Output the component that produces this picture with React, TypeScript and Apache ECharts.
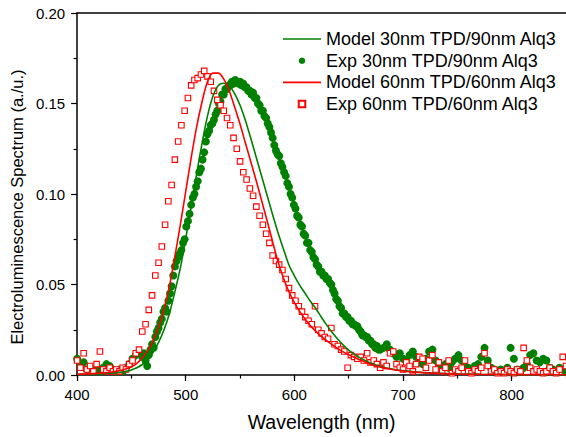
import { useEffect, useRef } from "react";
import * as echarts from "echarts";

const GREEN = "#008000";
const RED = "#ff0000";
const FONT = "'Liberation Sans', Arial, sans-serif";

const SERIES_NAMES = [
  "Model 30nm TPD/90nm Alq3",
  "Exp 30nm TPD/90nm Alq3",
  "Model 60nm TPD/60nm Alq3",
  "Exp 60nm TPD/60nm Alq3",
];

// model curves, read every 5 nm (coarser in the far tail)
const MODEL_WAVELENGTHS = [
  400, 405, 410, 415, 420, 425, 430, 435, 440, 445,
  450, 455, 460, 465, 470, 475, 480, 485, 490, 495,
  500, 505, 510, 515, 520, 525, 530, 535, 540, 545,
  550, 555, 560, 565, 570, 575, 580, 585, 590, 595,
  600, 605, 610, 615, 620, 625, 630, 635, 640, 645,
  650, 655, 660, 665, 670, 675, 680, 685, 690, 695,
  700, 710, 720, 730, 740, 750, 770, 800, 850,
];

const MODEL_30_90 = [
  0.0003, 0.0004, 0.0005, 0.0006, 0.0007, 0.0008, 0.001, 0.0012, 0.0015, 0.002,
  0.0028, 0.004, 0.0058, 0.0085, 0.0125, 0.018, 0.025, 0.034, 0.046, 0.059,
  0.0755, 0.093, 0.111, 0.128, 0.143, 0.154, 0.16, 0.1612, 0.1598, 0.1555,
  0.149, 0.1405, 0.1305, 0.12, 0.1095, 0.099, 0.0885, 0.0785, 0.0695, 0.0608,
  0.0548, 0.0495, 0.045, 0.0405, 0.0365, 0.0318, 0.0274, 0.0233, 0.0197, 0.0165,
  0.0138, 0.0115, 0.0096, 0.008, 0.0066, 0.0055, 0.0046, 0.0039, 0.0033, 0.0028,
  0.0024, 0.0018, 0.0013, 0.001, 0.0008, 0.0006, 0.0004, 0.0002, 0.0001,
];

const MODEL_60_60 = [
  0.0004, 0.0005, 0.0006, 0.0008, 0.001, 0.0012, 0.0015, 0.002, 0.0025, 0.0033,
  0.0045, 0.0064, 0.0095, 0.0135, 0.019, 0.0265, 0.0365, 0.049, 0.0655, 0.083,
  0.1015, 0.12, 0.137, 0.151, 0.162, 0.1668, 0.1668, 0.1635, 0.157, 0.148,
  0.1385, 0.128, 0.1175, 0.107, 0.096, 0.085, 0.0735, 0.0625, 0.0535, 0.046,
  0.04, 0.035, 0.0308, 0.027, 0.024, 0.0212, 0.0188, 0.0166, 0.0146, 0.0128,
  0.0112, 0.0098, 0.0085, 0.0072, 0.006, 0.005, 0.0042, 0.0036, 0.003, 0.0026,
  0.0022, 0.0016, 0.0012, 0.0009, 0.0007, 0.0005, 0.0003, 0.0002, 0.0001,
];

// Exp 30nm TPD/90nm: 3 nm steps in the tails, 1.5 nm steps over the band
const EXP30_HEAD_START = 400;
const EXP30_HEAD_STEP = 3;
const EXP30_HEAD = [
  0.009, 0.005, 0.007, 0.003, 0.004, 0.002, 0.003, 0.002, 0.004, 0.006,
  0.005, 0.003, 0.002, 0.003, 0.002, 0.004, 0.006, 0.009, 0.011, 0.012,
];

const EXP30_CORE_START = 460;
const EXP30_CORE_STEP = 1.5;
const EXP30_CORE = [
  0.010, 0.012, 0.008, 0.005, 0.011, 0.014, 0.017, 0.015, 0.021, 0.024,
  0.026, 0.029, 0.031, 0.035, 0.037, 0.035, 0.041, 0.045, 0.049, 0.055,
  0.060, 0.063, 0.065, 0.067, 0.069, 0.073, 0.075, 0.082, 0.085, 0.089,
  0.094, 0.098, 0.100, 0.104, 0.107, 0.112, 0.114, 0.119, 0.123, 0.129,
  0.133, 0.135, 0.138, 0.139, 0.141, 0.144, 0.146, 0.150, 0.151, 0.155,
  0.155, 0.158, 0.158, 0.160, 0.160, 0.162, 0.161, 0.163, 0.162, 0.161,
  0.162, 0.160, 0.161, 0.159, 0.159, 0.157, 0.157, 0.155, 0.156, 0.153,
  0.153, 0.150, 0.149, 0.146, 0.146, 0.143, 0.142, 0.139, 0.137, 0.134,
  0.131, 0.127, 0.124, 0.122, 0.121, 0.117, 0.115, 0.112, 0.110, 0.106,
  0.104, 0.100, 0.098, 0.094, 0.092, 0.088, 0.087, 0.083, 0.082, 0.078,
  0.077, 0.073, 0.073, 0.069, 0.068, 0.065, 0.064, 0.061, 0.060, 0.057,
  0.057, 0.055, 0.055, 0.053, 0.053, 0.051, 0.050, 0.047, 0.045, 0.042,
  0.041, 0.038, 0.037, 0.034, 0.034, 0.032, 0.032, 0.030, 0.030, 0.028,
  0.028, 0.027, 0.027, 0.025, 0.024, 0.022, 0.022, 0.021, 0.021, 0.019,
  0.019, 0.017, 0.017, 0.015, 0.016, 0.014, 0.014,
];

const EXP30_TAIL_START = 682;
const EXP30_TAIL_STEP = 3;
const EXP30_TAIL = [
  0.015, 0.017, 0.014, 0.012, 0.010, 0.012, 0.009, 0.008, 0.011, 0.013,
  0.010, 0.007, 0.006, 0.009, 0.013, 0.014, 0.008, 0.005, 0.004, 0.006,
  0.004, 0.007, 0.009, 0.011, 0.008, 0.005, 0.004, 0.003, 0.005, 0.006,
  0.010, 0.015, 0.008, 0.004, 0.003, 0.002, 0.003, 0.002, 0.004, 0.015,
  0.009, 0.003, 0.002, 0.004, 0.006, 0.011, 0.012, 0.008, 0.007, 0.009,
  0.008, 0.004, 0.003, 0.002, 0.004, 0.003, 0.002,
];

// Exp 60nm TPD/60nm: one value every 3 nm from 400 to 850 nm
const EXP60_START = 400;
const EXP60_STEP = 3;
const EXP60 = [
  0.008, 0.004, 0.012, 0.003, 0.005, 0.002, 0.006, 0.013, 0.003, 0.002,
  0.004, 0.002, 0.003, 0.002, 0.004, 0.003, 0.006, 0.008, 0.012, 0.014,
  0.024, 0.028, 0.036, 0.044, 0.055, 0.062, 0.071, 0.083, 0.096, 0.105,
  0.119, 0.129, 0.138, 0.146, 0.153, 0.160, 0.163, 0.164, 0.166, 0.168,
  0.165, 0.162, 0.157, 0.152, 0.149, 0.146, 0.142, 0.138, 0.131, 0.125,
  0.118, 0.112, 0.108, 0.103, 0.099, 0.093, 0.088, 0.083, 0.078, 0.073,
  0.066, 0.063, 0.061, 0.058, 0.053, 0.048, 0.044, 0.041, 0.038, 0.035,
  0.032, 0.030, 0.028, 0.038, 0.025, 0.023, 0.021, 0.020, 0.026, 0.017,
  0.016, 0.014, 0.013, 0.004, 0.011, 0.010, 0.009, 0.010, 0.008, 0.012,
  0.007, 0.008, 0.006, 0.004, 0.007, 0.005, 0.012, 0.013, 0.006, 0.004,
  0.003, 0.007, 0.005, 0.002, 0.006, 0.010, 0.009, 0.004, 0.008, 0.011,
  0.003, 0.007, 0.002, 0.004, 0.008, 0.001, 0.003, 0.002, 0.004, 0.008,
  0.002, 0.001, 0.003, 0.002, 0.004, 0.012, 0.005, 0.002, 0.003, 0.001,
  0.002, 0.001, 0.003, 0.002, 0.001, 0.003, 0.002, 0.015, 0.008, 0.004,
  0.002, 0.003, 0.002, 0.001, 0.002, 0.004, 0.002, 0.001, 0.003, 0.010, 0.005,
];

const X_MIN = 400;
const X_MAX = 850;
const Y_MIN = 0;
const Y_MAX = 0.2;

function pairModel(values: number[]) {
  return MODEL_WAVELENGTHS.map((x, i) => [x, values[i]]);
}

function pairSteps(start: number, step: number, values: number[]) {
  return values.map((v, i) => [start + i * step, v]);
}

const axisLineStyle = { color: "#000", width: 1.5 };
const tickLineStyle = { color: "#000", width: 1.2 };

const LINE_ICON = "path://M0,0H38V1.6H0Z";
const SQUARE_ICON = "path://M0,0H10V10H0Z";

function buildOption(): echarts.EChartsOption {
  return {
    animation: false,
    backgroundColor: "#fff",
    textStyle: { fontFamily: FONT },
    grid: { left: 72, right: 0, top: 13, bottom: 60 },
    legend: {
      orient: "vertical",
      left: 283,
      top: 30,
      padding: 0,
      itemWidth: 38,
      itemHeight: 6.5,
      itemGap: 3.7,
      textStyle: { fontSize: 18, color: "#000", fontFamily: FONT },
      data: [
        { name: SERIES_NAMES[0], icon: LINE_ICON },
        { name: SERIES_NAMES[1], icon: "circle" },
        { name: SERIES_NAMES[2], icon: LINE_ICON },
        { name: SERIES_NAMES[3], icon: SQUARE_ICON },
      ],
    },
    xAxis: [
      {
        type: "value",
        min: X_MIN,
        max: X_MAX,
        interval: 100,
        position: "bottom",
        name: "Wavelength (nm)",
        nameLocation: "middle",
        nameGap: 37,
        nameTextStyle: { fontSize: 19.5, color: "#000", fontFamily: FONT },
        axisLine: { onZero: false, lineStyle: axisLineStyle },
        axisTick: { length: 6, lineStyle: tickLineStyle },
        axisLabel: {
          margin: 12,
          fontSize: 15,
          color: "#000",
          fontFamily: FONT,
          showMaxLabel: false,
          formatter: (v: number) => (v === X_MAX ? "" : String(v)),
        },
        splitLine: { show: false },
      },
      {
        // minor ticks every 50 nm
        type: "value",
        min: X_MIN,
        max: X_MAX,
        interval: 50,
        position: "bottom",
        axisLine: { show: false },
        axisTick: { length: 3.5, lineStyle: tickLineStyle },
        axisLabel: { show: false },
        splitLine: { show: false },
      },
      {
        type: "value",
        min: X_MIN,
        max: X_MAX,
        position: "top",
        axisLine: { show: true, onZero: false, lineStyle: axisLineStyle },
        axisTick: { show: false },
        axisLabel: { show: false },
        splitLine: { show: false },
      },
    ],
    yAxis: {
      type: "value",
      min: Y_MIN,
      max: Y_MAX,
      interval: 0.05,
      name: "Electroluminescence Spectrum (a./u.)",
      nameLocation: "middle",
      nameGap: 45,
      nameTextStyle: {
        fontSize: 16.5,
        color: "#000",
        fontFamily: FONT,
        padding: [0, 26, 0, 0],
      },
      axisLine: { show: true, onZero: false, lineStyle: axisLineStyle },
      axisTick: { show: true, length: 6, lineStyle: tickLineStyle },
      minorTick: { show: true, splitNumber: 2, length: 3.5, lineStyle: tickLineStyle },
      axisLabel: {
        margin: 12,
        fontSize: 15,
        color: "#000",
        fontFamily: FONT,
        formatter: (v: number) => v.toFixed(2),
      },
      splitLine: { show: false },
    },
    series: [
      {
        name: SERIES_NAMES[0],
        type: "line",
        xAxisIndex: 0,
        smooth: 0.3,
        symbol: "none",
        lineStyle: { color: GREEN, width: 1.6 },
        itemStyle: { color: GREEN },
        data: pairModel(MODEL_30_90),
      },
      {
        name: SERIES_NAMES[1],
        type: "scatter",
        xAxisIndex: 0,
        symbol: "circle",
        symbolSize: 8,
        itemStyle: { color: GREEN, opacity: 1 },
        data: [
          ...pairSteps(EXP30_HEAD_START, EXP30_HEAD_STEP, EXP30_HEAD),
          ...pairSteps(EXP30_CORE_START, EXP30_CORE_STEP, EXP30_CORE),
          ...pairSteps(EXP30_TAIL_START, EXP30_TAIL_STEP, EXP30_TAIL),
        ],
      },
      {
        name: SERIES_NAMES[2],
        type: "line",
        xAxisIndex: 0,
        smooth: 0.3,
        symbol: "none",
        lineStyle: { color: RED, width: 1.6 },
        itemStyle: { color: RED },
        data: pairModel(MODEL_60_60),
      },
      {
        name: SERIES_NAMES[3],
        type: "scatter",
        xAxisIndex: 0,
        symbol: "rect",
        symbolSize: 5.5,
        itemStyle: { color: "#fff", borderColor: RED, borderWidth: 1.1, opacity: 1 },
        data: pairSteps(EXP60_START, EXP60_STEP, EXP60),
      },
    ],
  };
}

export default function App() {
  const chartRef = useRef<HTMLDivElement>(null);

  useEffect(() => {
    if (!chartRef.current) {
      return;
    }
    const chart = echarts.init(chartRef.current, null, { renderer: "svg" });
    chart.setOption(buildOption());
    return () => {
      chart.dispose();
    };
  }, []);

  return (
    <div
      ref={chartRef}
      style={{
        position: "absolute",
        left: 0,
        top: 0,
        width: 566,
        height: 437,
        background: "#fff",
      }}
    />
  );
}
